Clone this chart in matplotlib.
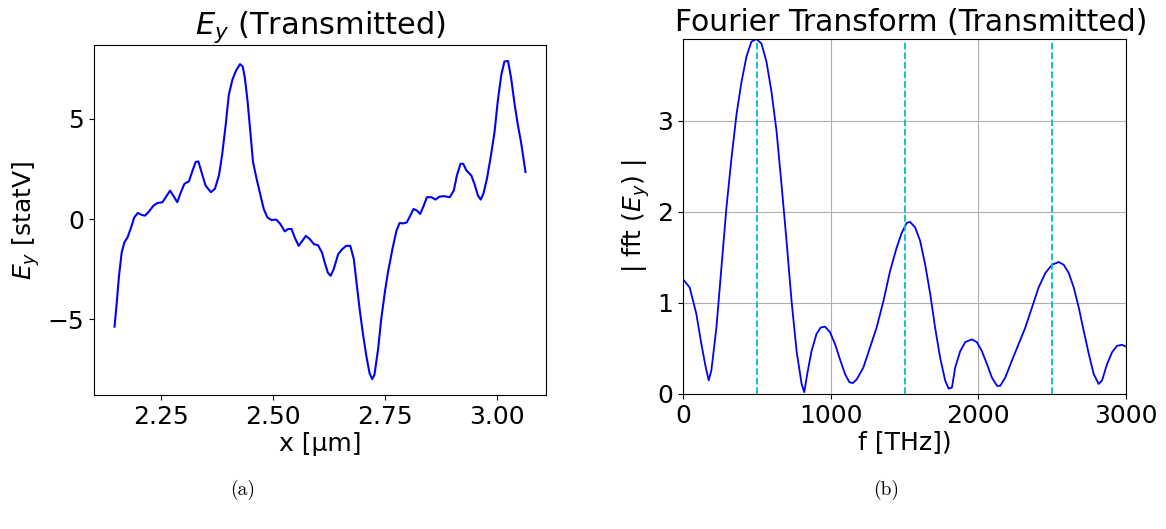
import numpy as np
import matplotlib
matplotlib.use("Agg")
import matplotlib.pyplot as plt

# Campo transmitido E_y en funcion de x
x_um = [2.147, 2.152, 2.157, 2.163, 2.169, 2.176, 2.184, 2.191, 2.199, 2.208,
        2.215, 2.224, 2.234, 2.243, 2.254, 2.261, 2.271, 2.278, 2.287, 2.295,
        2.303, 2.313, 2.320, 2.328, 2.334, 2.341, 2.350, 2.362, 2.371, 2.380,
        2.387, 2.395, 2.402, 2.410, 2.418, 2.427, 2.433, 2.438, 2.444, 2.450,
        2.456, 2.464, 2.471, 2.480, 2.488, 2.497, 2.508, 2.517, 2.527, 2.534,
        2.542, 2.549, 2.558, 2.566, 2.574, 2.583, 2.592, 2.601, 2.610, 2.616,
        2.623, 2.629, 2.636, 2.646, 2.655, 2.664, 2.673, 2.681, 2.687, 2.694,
        2.701, 2.709, 2.716, 2.722, 2.727, 2.735, 2.742, 2.750, 2.757, 2.767,
        2.776, 2.783, 2.791, 2.799, 2.807, 2.814, 2.822, 2.829, 2.837, 2.844,
        2.854, 2.863, 2.872, 2.883, 2.895, 2.904, 2.911, 2.919, 2.925, 2.932,
        2.943, 2.950, 2.958, 2.964, 2.970, 2.978, 2.987, 2.995, 3.002, 3.010,
        3.017, 3.025, 3.032, 3.040, 3.047, 3.054, 3.064]
ey = [-5.38, -4.18, -2.84, -1.67, -1.17, -0.92, -0.42, 0.08, 0.30, 0.20,
      0.17, 0.38, 0.67, 0.80, 0.84, 1.08, 1.42, 1.17, 0.84, 1.34,
      1.76, 1.88, 2.35, 2.85, 2.88, 2.35, 1.68, 1.34, 1.51, 2.18,
      3.19, 4.70, 6.21, 6.96, 7.41, 7.74, 7.62, 7.03, 5.86, 4.36,
      2.85, 2.01, 1.34, 0.50, 0.08, -0.05, -0.03, -0.25, -0.62, -0.50,
      -0.50, -0.92, -1.34, -1.09, -0.84, -1.01, -1.26, -1.31, -1.68, -2.17,
      -2.68, -2.84, -2.51, -1.76, -1.51, -1.34, -1.34, -2.01, -3.18, -4.52,
      -5.69, -6.86, -7.70, -8.00, -7.78, -6.52, -5.02, -3.68, -2.68, -1.51,
      -0.59, -0.20, -0.22, -0.17, 0.17, 0.50, 0.42, 0.25, 0.67, 1.09,
      1.09, 0.97, 1.12, 1.14, 1.09, 1.42, 2.18, 2.76, 2.76, 2.43,
      2.18, 1.76, 1.17, 0.97, 1.26, 2.01, 3.19, 4.36, 5.86, 7.20,
      7.87, 7.90, 7.03, 5.69, 4.70, 3.85, 2.35]

# Modulo de la transformada de Fourier
f_thz = [0, 45, 90, 124, 154, 174, 192, 226, 260, 294, 328, 362, 396, 430,
         463, 497, 531, 565, 599, 633, 667, 701, 735, 769, 803, 821, 841,
         870, 904, 932, 961, 995, 1029, 1063, 1097, 1126, 1149, 1176, 1221,
         1266, 1311, 1357, 1402, 1447, 1481, 1515, 1538, 1572, 1606, 1640,
         1674, 1707, 1741, 1775, 1798, 1821, 1843, 1877, 1911, 1956, 1990,
         2024, 2058, 2092, 2126, 2148, 2182, 2228, 2273, 2318, 2363, 2408,
         2454, 2499, 2544, 2578, 2612, 2646, 2680, 2714, 2748, 2781, 2815,
         2838, 2872, 2906, 2940, 2974, 3000]
fft_ey = [1.26, 1.17, 0.88, 0.55, 0.29, 0.15, 0.26, 0.73, 1.39, 2.05, 2.59,
          3.07, 3.43, 3.71, 3.87, 3.90, 3.85, 3.65, 3.32, 2.89, 2.30, 1.68,
          1.02, 0.47, 0.11, 0.02, 0.22, 0.47, 0.66, 0.73, 0.74, 0.68, 0.55,
          0.38, 0.22, 0.13, 0.12, 0.16, 0.29, 0.51, 0.73, 1.02, 1.35, 1.61,
          1.77, 1.88, 1.89, 1.83, 1.68, 1.42, 1.10, 0.73, 0.40, 0.15, 0.06,
          0.07, 0.29, 0.47, 0.57, 0.60, 0.57, 0.47, 0.33, 0.18, 0.09, 0.09,
          0.18, 0.37, 0.55, 0.73, 0.95, 1.17, 1.33, 1.42, 1.45, 1.42, 1.33,
          1.17, 0.95, 0.69, 0.44, 0.22, 0.11, 0.15, 0.33, 0.46, 0.53, 0.54,
          0.52]
armonicos = [500, 1500, 2500]

fig = plt.figure(figsize=(11.66, 5.29), dpi=100)
ax1 = fig.add_axes([0.0806, 0.2533, 0.3877, 0.6616])
ax2 = fig.add_axes([0.5858, 0.2552, 0.3799, 0.6711])

ax1.plot(x_um, ey, color="blue", lw=1.5)
ax1.set_title("$E_y$ (Transmitted)", fontsize=22)
ax1.set_xlabel("x [μm]", fontsize=18, labelpad=2)
ax1.set_ylabel("$E_y$ [statV]", fontsize=18)
ax1.set_xticks([2.25, 2.50, 2.75, 3.00])
ax1.set_yticks([-5, 0, 5])
ax1.tick_params(labelsize=18)

ax2.plot(f_thz, fft_ey, color="blue", lw=1.3)
for h in armonicos:
    ax2.axvline(h, color="c", ls="--", lw=1.3)
ax2.set_xlim(0, 3000)
ax2.set_ylim(0, max(fft_ey))
ax2.grid(True)
ax2.set_title("Fourier Transform (Transmitted)", fontsize=21.5, x=0.515)
ax2.set_xlabel("f [THz])", fontsize=18, labelpad=2)
ax2.set_ylabel("| fft ($E_y$) |", fontsize=18)
ax2.set_xticks([0, 1000, 2000, 3000])
ax2.set_yticks([0, 1, 2, 3])
ax2.tick_params(labelsize=18)

fig.text(0.2084, 0.073, "(a)", fontsize=14, family="cmr10", ha="center", va="center")
fig.text(0.7599, 0.073, "(b)", fontsize=14, family="cmr10", ha="center", va="center")

fig.savefig("out.png", dpi=100)
